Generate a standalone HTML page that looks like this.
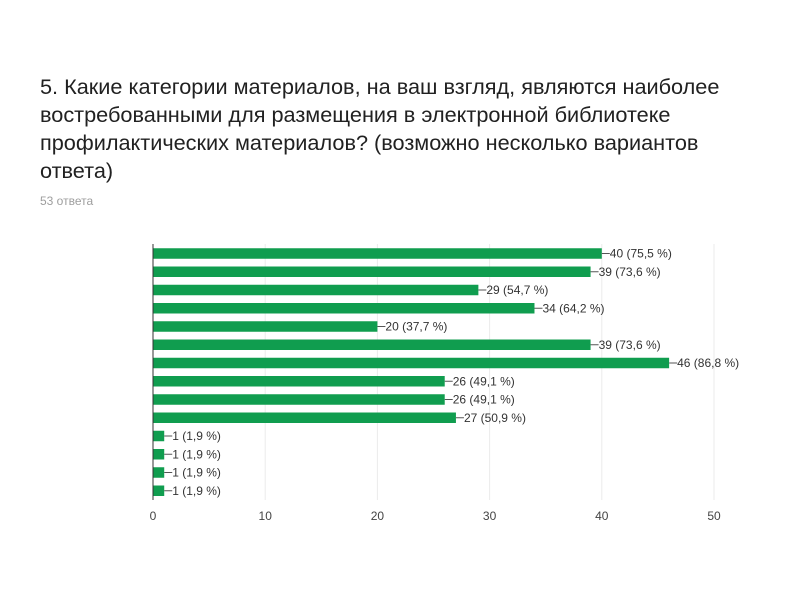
<!DOCTYPE html>
<html><head><meta charset="utf-8"><style>
body{margin:0;width:800px;height:590px;background:#fff;font-family:"Liberation Sans",sans-serif;overflow:hidden;position:relative}
#title{position:absolute;left:40px;top:73px;width:720px;font-size:21.7px;line-height:28px;color:#212121}
#count{position:absolute;left:40px;top:194px;font-size:12px;color:#9e9e9e}
svg{position:absolute;left:0;top:0}
</style></head><body>
<div id="title">5. Какие категории материалов, на ваш взгляд, являются наиболее востребованными для размещения в электронной библиотеке профилактических материалов? (возможно несколько вариантов ответа)</div>
<div id="count">53 ответа</div>
<svg id="chart" width="800" height="590"></svg>
<script>
const values=[40,39,29,34,20,39,46,26,26,27,1,1,1,1];
const labels=["40 (75,5 %)","39 (73,6 %)","29 (54,7 %)","34 (64,2 %)","20 (37,7 %)","39 (73,6 %)","46 (86,8 %)","26 (49,1 %)","26 (49,1 %)","27 (50,9 %)","1 (1,9 %)","1 (1,9 %)","1 (1,9 %)","1 (1,9 %)"];
const ticks=[0,10,20,30,40,50];
const svg=document.getElementById('chart');
const NS='http://www.w3.org/2000/svg';
const x0=153,x1=714,yTop=244,pitch=18.25,bh=10.5;
const xs=v=>x0+(x1-x0)*v/50;
const yc=i=>yTop+9.5+i*pitch;
function mk(t,a){const e=document.createElementNS(NS,t);for(const k in a)e.setAttribute(k,a[k]);svg.appendChild(e);return e;}
ticks.forEach(t=>{
 if(t>0){const g=mk('line',{x1:xs(t),x2:xs(t),y1:yTop,y2:500,stroke:'#ebebeb','stroke-width':1});
 
 }
 const l=mk('text',{x:xs(t),y:520,'text-anchor':'middle','font-size':12,fill:'#444'});l.textContent=t;
 
 
});
values.forEach((v,i)=>{
 const r=mk('rect',{x:x0,y:yc(i)-bh/2,width:xs(v)-x0,height:bh,fill:'#109d4f'});
 
 
 const ln=mk('line',{x1:xs(v),x2:xs(v)+8,y1:yc(i),y2:yc(i),stroke:'#555','stroke-width':1});
 
 
 const t=mk('text',{x:xs(v)+8,y:yc(i)+4,'font-size':12,fill:'#333'});t.textContent=labels[i];
 
 
});
const ax=mk('line',{x1:x0,x2:x0,y1:yTop,y2:500,stroke:'#333','stroke-width':1});


</script>
</body></html>
